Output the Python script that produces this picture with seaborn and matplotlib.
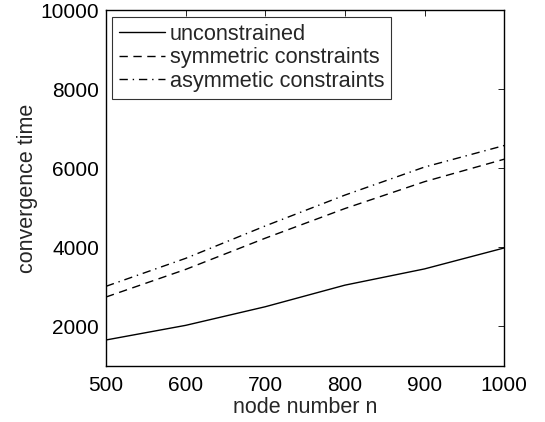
import matplotlib
matplotlib.use("Agg")
import matplotlib.pyplot as plt
import seaborn as sns
import pandas as pd

node_n = [500, 600, 700, 800, 900, 1000]
unconstrained = [1655, 2025, 2496, 3042, 3453, 3983]
symmetric = [2742, 3440, 4230, 4980, 5660, 6228]
asymmetric = [3013, 3720, 4540, 5320, 6030, 6574]

labels = ["unconstrained", "symmetric constraints", "asymmetic constraints"]
series = [unconstrained, symmetric, asymmetric]
styles = ["-", (0, (6, 4)), (0, (6, 3.5, 1, 3.5))]

sns.set_theme(style="white")
plt.rcParams['font.family'] = ['Liberation Sans', 'DejaVu Sans']

fig = plt.figure(figsize=(5.45, 4.22), dpi=100)
ax = fig.add_axes([0.1945, 0.133, 0.7305, 0.843])

for lab, vals, ls in zip(labels, series, styles):
    df = pd.DataFrame({"n": node_n, "t": vals})
    sns.lineplot(data=df, x="n", y="t", ax=ax, color="black", linewidth=1.0,
                 linestyle=ls, label=lab)

fs = 15
ax.set_xlim(500, 1000)
ax.set_ylim(1000, 10000)
ax.set_xticks([500, 600, 700, 800, 900, 1000])
ax.set_yticks([2000, 4000, 6000, 8000, 10000])
ax.tick_params(direction="in", top=True, right=True, length=4, width=0.6,
               labelsize=fs, colors="black")
ax.tick_params(axis="y", pad=5)
ax.tick_params(axis="x", pad=7)
for sp in ax.spines.values():
    sp.set_color("black")
    sp.set_linewidth(1.0)
ax.set_xlabel("node number n", fontsize=15.5, labelpad=2)
ax.set_ylabel("convergence time", fontsize=15.5, labelpad=2)

leg = ax.legend(loc="upper left", bbox_to_anchor=(0.016, 0.981), fontsize=15.7,
                frameon=True, fancybox=False, edgecolor="black",
                handlelength=2.1, handletextpad=0.2, borderpad=0.32,
                labelspacing=0.12, borderaxespad=0.0)
leg.get_frame().set_linewidth(0.8)

fig.savefig("out.png", dpi=100)
